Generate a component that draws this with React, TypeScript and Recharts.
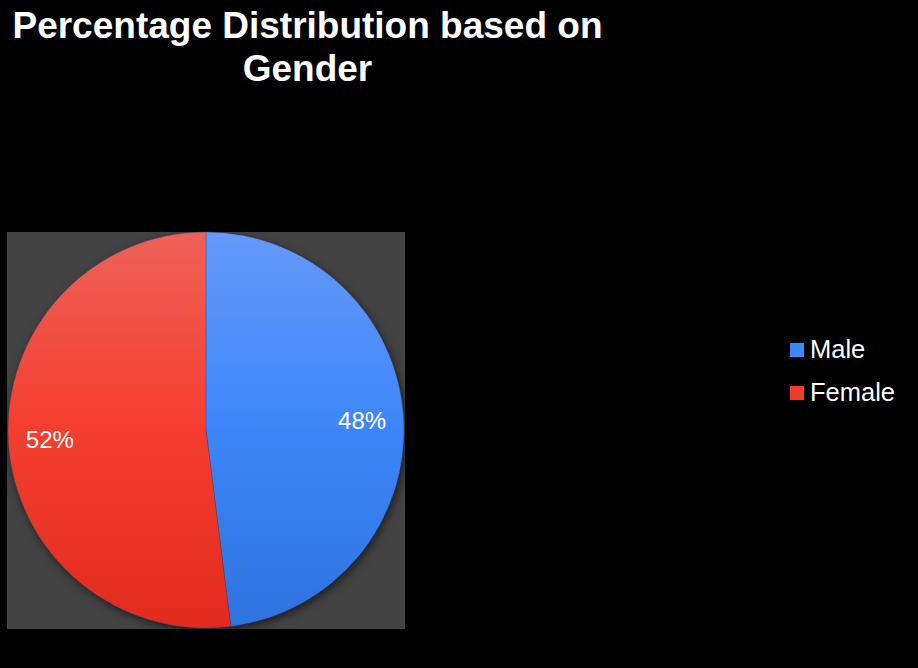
import { Cell, Legend, Pie, PieChart } from "recharts";

const categories = ["Male", "Female"];
const shares = [48, 52];
const topColors = ["#6499f8", "#ee6159"];
const midColors = ["#3d86f9", "#f43e2f"];
const bottomColors = ["#2e73df", "#e02b1e"];
const swatches = ["#3d86f7", "#ef3a2d"];

const data = categories.map((name, i) => ({ name, value: shares[i] }));

const RADIAN = Math.PI / 180;
const font = "'Liberation Sans', Arial, sans-serif";

function renderLabel(props: any) {
  const { cx, cy, midAngle, outerRadius, value } = props;
  const r = outerRadius * 0.79;
  const x = cx + r * Math.cos(-midAngle * RADIAN);
  const y = cy + r * Math.sin(-midAngle * RADIAN);
  return (
    <text x={x} y={y} fill="#ffffff" fontSize={24} fontFamily={font} textAnchor="middle" dominantBaseline="central">
      {value}%
    </text>
  );
}

// legend follows the category order (recharts sorts its payload by name)
function renderLegend() {
  return (
    <div style={{ fontFamily: font, fontSize: 25.5, color: "#ffffff" }}>
      {categories.map((c, i) => (
        <div key={c} style={{ display: "flex", alignItems: "center", height: 43 }}>
          <span style={{ width: 14, height: 14, background: swatches[i], marginRight: 6, display: "inline-block" }} />
          {c}
        </div>
      ))}
    </div>
  );
}

export default function App() {
  return (
    <div style={{ position: "absolute", left: 0, top: 0, width: 918, height: 668, background: "#000000", overflow: "hidden" }}>
      <style>{`.recharts-pie { filter: drop-shadow(2px 3px 4px rgba(0,0,0,0.55)); }`}</style>
      <div
        style={{
          position: "absolute",
          left: 0,
          top: 0,
          width: 615,
          textAlign: "center",
          color: "#ffffff",
          fontFamily: font,
          fontWeight: "bold",
          fontSize: 37,
          lineHeight: "43px",
          paddingTop: 4,
        }}
      >
        Percentage Distribution based on
        <br />
        Gender
      </div>
      <div style={{ position: "absolute", left: 7, top: 232, width: 398, height: 397, background: "#434343" }} />
      <div style={{ position: "absolute", left: 0, top: 0 }}>
        <PieChart width={918} height={668} margin={{ top: 0, right: 0, bottom: 0, left: 0 }}>
          <defs>
            {categories.map((c, i) => (
              <linearGradient key={c} id={`grad${i}`} x1="0" y1="0" x2="0" y2="1">
                <stop offset="0%" stopColor={topColors[i]} />
                <stop offset="50%" stopColor={midColors[i]} />
                <stop offset="100%" stopColor={bottomColors[i]} />
              </linearGradient>
            ))}
          </defs>
          <Pie
            data={data}
            dataKey="value"
            nameKey="name"
            cx={206}
            cy={430}
            outerRadius={198}
            startAngle={90}
            endAngle={-270}
            label={renderLabel}
            labelLine={false}
            stroke="rgba(40,70,140,0.5)"
            strokeWidth={0.6}
            isAnimationActive={false}
          >
            {data.map((d, i) => (
              <Cell key={d.name} fill={`url(#grad${i})`} />
            ))}
          </Pie>
          <Legend
            layout="vertical"
            content={renderLegend}
            wrapperStyle={{ position: "absolute", left: 790, top: 328, width: 128 }}
          />
        </PieChart>
      </div>
    </div>
  );
}
